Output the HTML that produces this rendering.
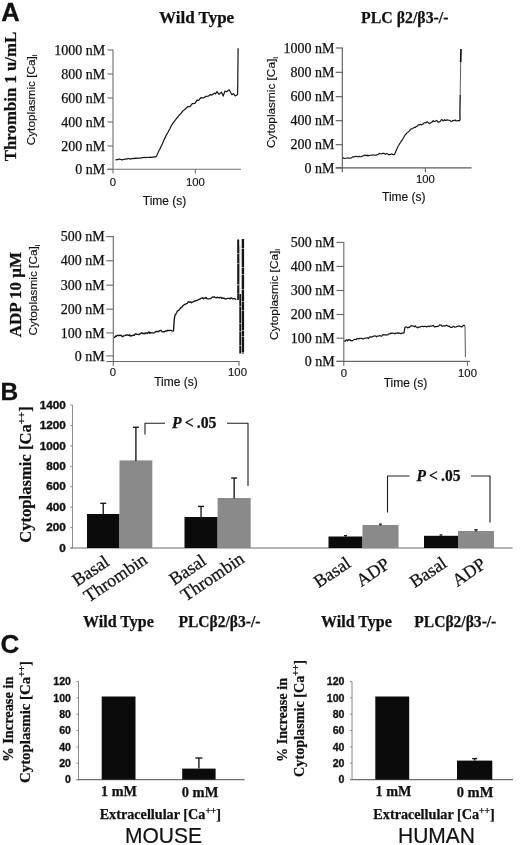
<!DOCTYPE html>
<html><head><meta charset="utf-8"><title>Figure</title>
<style>
html,body{margin:0;padding:0;background:#fff;}
body{width:520px;height:845px;overflow:hidden;font-family:"Liberation Sans",sans-serif;}
svg{display:block;will-change:transform;opacity:0.999}
text{fill:#111}
</style></head><body>
<svg width="520" height="845" viewBox="0 0 520 845">
<rect x="0" y="0" width="520" height="845" fill="#fff"/>
<text x="1.2" y="20.8" font-family="Liberation Sans, sans-serif" font-size="25.5" font-weight="bold" font-style="normal" text-anchor="start" stroke="#111" stroke-width="0.3" >A</text>
<text x="0.5" y="400" font-family="Liberation Sans, sans-serif" font-size="24.5" font-weight="bold" font-style="normal" text-anchor="start" stroke="#111" stroke-width="0.3" >B</text>
<text x="0.5" y="653.2" font-family="Liberation Sans, sans-serif" font-size="26" font-weight="bold" font-style="normal" text-anchor="start" stroke="#111" stroke-width="0.3" >C</text>
<text x="196.6" y="23" font-family="Liberation Serif, serif" font-size="17" font-weight="bold" font-style="normal" text-anchor="middle" stroke="#111" stroke-width="0.25" >Wild Type</text>
<text x="361" y="23" font-family="Liberation Serif, serif" font-size="17" font-weight="bold" font-style="normal" text-anchor="start" stroke="#111" stroke-width="0.25" textLength="87.5" lengthAdjust="spacingAndGlyphs">PLC β2/β3-/-</text>
<text x="16.2" y="96.5" font-family="Liberation Serif, serif" font-size="16.8" font-weight="bold" font-style="normal" text-anchor="middle" transform="rotate(-90 16.2 96.5)" stroke="#111" stroke-width="0.25" >Thrombin 1 u/mL</text>
<text x="21.2" y="294.6" font-family="Liberation Serif, serif" font-size="17" font-weight="bold" font-style="normal" text-anchor="middle" transform="rotate(-90 21.2 294.6)" stroke="#111" stroke-width="0.25" >ADP 10 μM</text>
<line x1="113" y1="49.5" x2="113" y2="169.3" stroke="#707070" stroke-width="1.1"/>
<line x1="107.5" y1="169.3" x2="241" y2="169.3" stroke="#707070" stroke-width="1.1"/>
<line x1="107.5" y1="50" x2="113" y2="50" stroke="#707070" stroke-width="1.1"/>
<text x="105.3" y="54.6" font-family="Liberation Serif, serif" font-size="14" font-weight="normal" font-style="normal" text-anchor="end" stroke="#111" stroke-width="0.25" >1000 nM</text>
<line x1="107.5" y1="74" x2="113" y2="74" stroke="#707070" stroke-width="1.1"/>
<text x="105.3" y="78.6" font-family="Liberation Serif, serif" font-size="14" font-weight="normal" font-style="normal" text-anchor="end" stroke="#111" stroke-width="0.25" >800 nM</text>
<line x1="107.5" y1="98" x2="113" y2="98" stroke="#707070" stroke-width="1.1"/>
<text x="105.3" y="102.6" font-family="Liberation Serif, serif" font-size="14" font-weight="normal" font-style="normal" text-anchor="end" stroke="#111" stroke-width="0.25" >600 nM</text>
<line x1="107.5" y1="122" x2="113" y2="122" stroke="#707070" stroke-width="1.1"/>
<text x="105.3" y="126.6" font-family="Liberation Serif, serif" font-size="14" font-weight="normal" font-style="normal" text-anchor="end" stroke="#111" stroke-width="0.25" >400 nM</text>
<line x1="107.5" y1="146" x2="113" y2="146" stroke="#707070" stroke-width="1.1"/>
<text x="105.3" y="150.6" font-family="Liberation Serif, serif" font-size="14" font-weight="normal" font-style="normal" text-anchor="end" stroke="#111" stroke-width="0.25" >200 nM</text>
<line x1="107.5" y1="169.3" x2="113" y2="169.3" stroke="#707070" stroke-width="1.1"/>
<text x="105.3" y="173.9" font-family="Liberation Serif, serif" font-size="14" font-weight="normal" font-style="normal" text-anchor="end" stroke="#111" stroke-width="0.25" >0 nM</text>
<line x1="113" y1="169.3" x2="113" y2="173.60000000000002" stroke="#707070" stroke-width="1.1"/>
<line x1="195.4" y1="169.3" x2="195.4" y2="173.60000000000002" stroke="#707070" stroke-width="1.1"/>
<text x="34.8" y="99.9" font-family="Liberation Sans, sans-serif" font-size="11.8" font-weight="normal" font-style="normal" text-anchor="middle" transform="rotate(-90 34.8 99.9)" stroke="#111" stroke-width="0.15" >Cytoplasmic [Ca]<tspan font-size="7.5" dy="2.5">i</tspan></text>
<text x="113" y="185.8" font-family="Liberation Sans, sans-serif" font-size="11.3" font-weight="normal" font-style="normal" text-anchor="middle" stroke="#111" stroke-width="0.15" >0</text>
<text x="195.4" y="185.8" font-family="Liberation Sans, sans-serif" font-size="11.3" font-weight="normal" font-style="normal" text-anchor="middle" stroke="#111" stroke-width="0.15" >100</text>
<text x="164.6" y="205.4" font-family="Liberation Sans, sans-serif" font-size="12" font-weight="normal" font-style="normal" text-anchor="middle" stroke="#111" stroke-width="0.15" >Time (s)</text>
<path d="M115.4,159.9 L116.2,159.8 L117.0,159.5 L117.8,159.6 L118.6,159.2 L119.5,159.1 L120.3,159.5 L121.1,159.4 L121.9,159.9 L122.7,159.6 L123.5,159.5 L124.3,159.2 L125.1,159.1 L125.9,159.2 L126.8,158.8 L127.6,158.9 L128.4,158.5 L129.2,158.5 L130.0,159.1 L130.8,158.9 L131.6,158.6 L132.5,158.5 L133.3,158.6 L134.1,158.2 L134.9,158.3 L135.8,158.1 L136.6,158.4 L137.4,158.0 L138.2,158.2 L139.0,158.0 L139.9,158.2 L140.7,158.0 L141.5,157.8 L142.3,157.7 L143.2,157.7 L144.0,157.5 L144.8,157.4 L145.6,157.6 L146.4,157.5 L147.3,157.4 L148.1,157.5 L148.9,157.4 L149.7,157.3 L150.5,157.2 L151.4,157.3 L152.2,157.4 L153.0,157.1 L153.8,156.7 L154.7,156.8 L155.5,156.8 L156.3,156.6 L157.2,154.8 L158.1,152.5 L159.0,150.6 L159.8,149.2 L160.7,147.2 L161.6,145.4 L162.5,143.4 L163.4,141.4 L164.4,139.0 L165.3,137.4 L166.2,135.3 L167.1,133.6 L168.0,132.2 L168.9,130.5 L169.8,129.1 L170.7,127.1 L171.6,125.3 L172.5,123.7 L173.4,122.6 L174.3,121.3 L175.2,120.2 L176.1,119.0 L177.0,117.9 L177.9,117.0 L178.8,115.7 L179.6,114.7 L180.5,114.0 L181.4,112.8 L182.3,111.6 L183.2,110.5 L184.1,110.0 L185.0,109.4 L185.0,109.2 L187.7,106.7 L190.0,106.7 L192.3,103.7 L194.9,103.3 L197.0,100.2 L198.7,100.4 L200.9,97.7 L203.5,98.0 L205.6,96.4 L208.2,96.2 L210.3,94.6 L211.8,95.1 L214.5,93.2 L215.5,93.9 L216.9,91.6 L219.1,94.4 L221.4,92.1 L223.2,96.1 L224.9,91.1 L226.6,91.8 L229.1,89.8 L231.9,94.7 L233.4,93.6 L235.2,95.9 L237.6,94.5 L237.8,80.0 L238.1,48.3" fill="none" stroke="#151515" stroke-width="1.2" stroke-linejoin="round" />
<line x1="342.3" y1="47.5" x2="342.3" y2="167.9" stroke="#5a5a5a" stroke-width="1.1"/>
<line x1="335.7" y1="167.9" x2="471.5" y2="167.9" stroke="#5a5a5a" stroke-width="1.1"/>
<line x1="335.7" y1="48" x2="342.3" y2="48" stroke="#5a5a5a" stroke-width="1.1"/>
<text x="334.5" y="52.6" font-family="Liberation Serif, serif" font-size="14" font-weight="normal" font-style="normal" text-anchor="end" stroke="#111" stroke-width="0.25" >1000 nM</text>
<line x1="335.7" y1="72.3" x2="342.3" y2="72.3" stroke="#5a5a5a" stroke-width="1.1"/>
<text x="334.5" y="76.89999999999999" font-family="Liberation Serif, serif" font-size="14" font-weight="normal" font-style="normal" text-anchor="end" stroke="#111" stroke-width="0.25" >800 nM</text>
<line x1="335.7" y1="96.7" x2="342.3" y2="96.7" stroke="#5a5a5a" stroke-width="1.1"/>
<text x="334.5" y="101.3" font-family="Liberation Serif, serif" font-size="14" font-weight="normal" font-style="normal" text-anchor="end" stroke="#111" stroke-width="0.25" >600 nM</text>
<line x1="335.7" y1="120.7" x2="342.3" y2="120.7" stroke="#5a5a5a" stroke-width="1.1"/>
<text x="334.5" y="125.3" font-family="Liberation Serif, serif" font-size="14" font-weight="normal" font-style="normal" text-anchor="end" stroke="#111" stroke-width="0.25" >400 nM</text>
<line x1="335.7" y1="144.7" x2="342.3" y2="144.7" stroke="#5a5a5a" stroke-width="1.1"/>
<text x="334.5" y="149.29999999999998" font-family="Liberation Serif, serif" font-size="14" font-weight="normal" font-style="normal" text-anchor="end" stroke="#111" stroke-width="0.25" >200 nM</text>
<line x1="335.7" y1="167.9" x2="342.3" y2="167.9" stroke="#5a5a5a" stroke-width="1.1"/>
<text x="334.5" y="172.5" font-family="Liberation Serif, serif" font-size="14" font-weight="normal" font-style="normal" text-anchor="end" stroke="#111" stroke-width="0.25" >0 nM</text>
<line x1="342.3" y1="167.9" x2="342.3" y2="172.20000000000002" stroke="#5a5a5a" stroke-width="1.1"/>
<line x1="425.4" y1="167.9" x2="425.4" y2="172.20000000000002" stroke="#5a5a5a" stroke-width="1.1"/>
<text x="275.4" y="102.5" font-family="Liberation Sans, sans-serif" font-size="11.8" font-weight="normal" font-style="normal" text-anchor="middle" transform="rotate(-90 275.4 102.5)" stroke="#111" stroke-width="0.15" >Cytoplasmic [Ca]<tspan font-size="7.5" dy="2.5">i</tspan></text>
<text x="425.4" y="183.4" font-family="Liberation Sans, sans-serif" font-size="11.3" font-weight="normal" font-style="normal" text-anchor="middle" stroke="#111" stroke-width="0.15" >100</text>
<text x="403.8" y="200.7" font-family="Liberation Sans, sans-serif" font-size="12" font-weight="normal" font-style="normal" text-anchor="middle" stroke="#111" stroke-width="0.15" >Time (s)</text>
<path d="M342.5,158.5 L343.3,157.9 L344.2,158.2 L345.0,158.5 L345.8,158.3 L346.7,158.0 L347.5,157.9 L348.3,158.2 L349.2,158.0 L350.0,158.2 L350.8,158.1 L351.7,157.7 L352.5,156.9 L353.3,156.8 L354.2,157.0 L355.0,156.4 L355.8,156.5 L356.7,156.3 L357.5,156.8 L358.3,156.7 L359.2,156.3 L360.0,156.8 L360.8,156.7 L361.6,156.4 L362.4,156.2 L363.2,155.7 L364.0,155.6 L364.8,154.9 L365.6,155.4 L366.4,155.7 L367.2,155.0 L368.0,156.1 L368.8,155.3 L369.6,155.5 L370.4,155.2 L371.2,155.0 L372.0,155.2 L372.8,155.0 L373.6,154.9 L374.4,155.2 L375.2,155.3 L376.0,155.1 L376.8,154.9 L377.6,154.8 L378.4,154.3 L379.2,153.3 L380.0,153.7 L380.8,153.8 L381.6,153.9 L382.4,153.4 L383.2,153.4 L384.0,153.4 L384.8,153.7 L385.6,154.4 L386.4,153.6 L387.2,153.8 L388.0,154.2 L388.8,154.8 L389.6,154.6 L390.4,154.4 L391.2,153.9 L392.0,154.0 L392.8,154.5 L393.7,154.6 L394.5,154.4 L396.0,150.9 L397.0,148.7 L398.0,146.5 L398.8,145.3 L399.6,143.7 L400.5,142.6 L401.3,141.0 L402.2,140.0 L403.1,138.5 L404.1,136.7 L405.0,135.1 L405.9,134.3 L406.8,133.1 L407.7,132.4 L408.6,131.6 L409.5,130.9 L410.3,129.6 L411.1,129.1 L411.9,128.7 L412.7,128.7 L413.5,127.9 L414.3,127.4 L415.2,127.5 L416.0,126.8 L416.9,126.2 L417.7,125.7 L418.5,124.7 L419.3,124.9 L420.2,124.4 L421.0,124.5 L421.8,125.0 L422.6,124.0 L423.4,123.9 L424.3,122.7 L425.1,122.7 L425.9,123.0 L426.7,121.9 L427.5,121.9 L428.3,122.8 L429.2,123.6 L430.0,123.4 L430.8,122.8 L431.6,122.5 L432.4,121.8 L433.2,120.6 L434.0,121.5 L434.9,121.4 L435.7,121.2 L436.5,120.4 L437.3,120.9 L438.1,122.2 L438.9,121.9 L439.7,121.9 L440.5,121.1 L441.3,119.7 L442.1,119.6 L443.0,120.9 L443.8,120.5 L444.6,119.7 L445.4,120.5 L446.2,120.4 L447.0,119.7 L447.8,120.3 L448.7,120.2 L449.5,120.3 L450.3,120.7 L451.2,121.5 L452.0,121.3 L452.8,120.4 L453.7,120.7 L454.5,120.2 L455.3,120.0 L456.2,121.0 L457.0,120.8 L458.0,120.5 L459.0,120.6 L460.0,120.6" fill="none" stroke="#151515" stroke-width="1.15" stroke-linejoin="round" />
<path d="M460.0,120.6 L459.9,112.0 L460.2,95.0" fill="none" stroke="#151515" stroke-width="1.3" stroke-linejoin="round" />
<path d="M460.2,95.0 L460.7,61.0" fill="none" stroke="#333" stroke-width="0.8" stroke-linejoin="round" />
<path d="M460.7,62.0 L461.0,49.0" fill="none" stroke="#151515" stroke-width="1.7" stroke-linejoin="round" />
<line x1="113.3" y1="236.1" x2="113.3" y2="361.5" stroke="#686868" stroke-width="1.1"/>
<line x1="106.3" y1="361.5" x2="239.5" y2="361.5" stroke="#686868" stroke-width="1.1"/>
<line x1="106.3" y1="236.6" x2="113.3" y2="236.6" stroke="#686868" stroke-width="1.1"/>
<text x="104.7" y="241.2" font-family="Liberation Serif, serif" font-size="14" font-weight="normal" font-style="normal" text-anchor="end" stroke="#111" stroke-width="0.25" >500 nM</text>
<line x1="106.3" y1="260.8" x2="113.3" y2="260.8" stroke="#686868" stroke-width="1.1"/>
<text x="104.7" y="265.40000000000003" font-family="Liberation Serif, serif" font-size="14" font-weight="normal" font-style="normal" text-anchor="end" stroke="#111" stroke-width="0.25" >400 nM</text>
<line x1="106.3" y1="285.2" x2="113.3" y2="285.2" stroke="#686868" stroke-width="1.1"/>
<text x="104.7" y="289.8" font-family="Liberation Serif, serif" font-size="14" font-weight="normal" font-style="normal" text-anchor="end" stroke="#111" stroke-width="0.25" >300 nM</text>
<line x1="106.3" y1="309.2" x2="113.3" y2="309.2" stroke="#686868" stroke-width="1.1"/>
<text x="104.7" y="313.8" font-family="Liberation Serif, serif" font-size="14" font-weight="normal" font-style="normal" text-anchor="end" stroke="#111" stroke-width="0.25" >200 nM</text>
<line x1="106.3" y1="332.9" x2="113.3" y2="332.9" stroke="#686868" stroke-width="1.1"/>
<text x="104.7" y="337.5" font-family="Liberation Serif, serif" font-size="14" font-weight="normal" font-style="normal" text-anchor="end" stroke="#111" stroke-width="0.25" >100 nM</text>
<line x1="106.3" y1="355.9" x2="113.3" y2="355.9" stroke="#686868" stroke-width="1.1"/>
<text x="104.7" y="360.5" font-family="Liberation Serif, serif" font-size="14" font-weight="normal" font-style="normal" text-anchor="end" stroke="#111" stroke-width="0.25" >0 nM</text>
<line x1="113.3" y1="361.5" x2="113.3" y2="365.8" stroke="#686868" stroke-width="1.1"/>
<line x1="239" y1="361.5" x2="239" y2="365.8" stroke="#686868" stroke-width="1.1"/>
<text x="37.2" y="290" font-family="Liberation Sans, sans-serif" font-size="11.8" font-weight="normal" font-style="normal" text-anchor="middle" transform="rotate(-90 37.2 290)" stroke="#111" stroke-width="0.15" >Cytoplasmic [Ca]<tspan font-size="7.5" dy="2.5">i</tspan></text>
<text x="113" y="376.2" font-family="Liberation Sans, sans-serif" font-size="11.3" font-weight="normal" font-style="normal" text-anchor="middle" stroke="#111" stroke-width="0.15" >0</text>
<text x="237.5" y="376.2" font-family="Liberation Sans, sans-serif" font-size="11.3" font-weight="normal" font-style="normal" text-anchor="middle" stroke="#111" stroke-width="0.15" >100</text>
<text x="176" y="386" font-family="Liberation Sans, sans-serif" font-size="12" font-weight="normal" font-style="normal" text-anchor="middle" stroke="#111" stroke-width="0.15" >Time (s)</text>
<path d="M114.0,337.5 L114.8,337.3 L115.6,336.0 L116.4,336.3 L117.2,335.3 L118.1,335.2 L118.9,335.7 L119.7,335.2 L120.5,335.3 L121.3,335.5 L122.1,336.5 L122.9,336.6 L123.8,335.8 L124.6,335.6 L125.4,335.3 L126.2,334.9 L127.0,335.0 L127.8,335.0 L128.6,335.4 L129.4,334.7 L130.2,336.1 L131.1,335.6 L131.9,335.8 L132.7,335.4 L133.5,335.2 L134.3,335.3 L135.1,333.9 L135.9,334.0 L136.8,334.3 L137.6,334.4 L138.4,334.5 L139.2,334.5 L140.0,333.8 L140.8,333.4 L141.6,332.7 L142.5,333.5 L143.3,333.7 L144.1,333.1 L144.9,333.9 L145.7,333.0 L146.5,332.9 L147.4,333.5 L148.2,332.5 L149.0,331.9 L149.8,333.4 L150.6,332.5 L151.4,332.9 L152.3,332.9 L153.1,332.8 L153.9,332.8 L154.7,332.6 L155.5,331.7 L156.3,331.4 L157.2,331.7 L158.0,331.4 L158.8,331.7 L159.6,330.7 L160.4,330.4 L161.2,330.6 L162.1,331.7 L162.9,331.9 L163.7,331.7 L164.5,331.7 L165.3,331.0 L166.1,331.0 L167.0,331.0 L167.8,330.1 L168.6,330.5 L169.4,330.7 L170.2,330.4 L171.0,330.4 L171.9,330.8 L172.7,331.1 L173.5,330.9 L174.3,319.1 L175.0,315.0 L175.8,314.2 L176.7,312.5 L177.5,310.8 L178.5,310.6 L179.4,309.5 L180.4,308.3 L181.3,307.2 L182.2,306.8 L183.1,305.5 L184.0,304.9 L184.8,304.3 L185.6,304.1 L186.4,303.6 L187.2,303.4 L188.0,302.1 L188.9,301.7 L189.7,302.3 L190.6,301.9 L191.5,302.8 L192.3,302.1 L193.2,301.9 L194.1,301.2 L194.9,301.0 L195.8,300.8 L196.7,300.5 L197.5,300.2 L198.4,299.7 L199.2,299.3 L200.1,298.9 L200.9,298.4 L201.8,298.2 L202.6,297.8 L203.5,298.9 L204.3,298.1 L205.1,298.1 L206.0,297.4 L206.8,298.5 L207.6,298.8 L208.4,298.8 L209.3,298.8 L210.1,298.7 L210.9,298.3 L211.7,297.7 L212.6,297.0 L213.4,297.1 L214.2,296.8 L215.0,297.4 L215.9,297.7 L216.7,297.7 L217.6,297.2 L218.4,297.7 L219.3,297.9 L220.1,297.4 L221.0,297.3 L221.8,298.4 L222.7,297.9 L223.5,298.4 L224.3,298.1 L225.2,299.1 L226.0,298.8 L226.8,298.6 L227.7,298.4 L228.5,298.4 L229.4,298.4 L230.2,298.8 L231.0,297.8 L231.9,298.2 L232.7,298.9 L233.6,298.6 L234.5,298.5 L235.4,299.0 L236.3,299.6" fill="none" stroke="#151515" stroke-width="1.35" stroke-linejoin="round" />
<path d="M238.2,239.6 L238.2,300.0" fill="none" stroke="#151515" stroke-width="2.0" stroke-linejoin="round" stroke-dasharray="14 0.5 9 0.5 21 0.6 8 0.4"/>
<path d="M240.2,294.0 L240.2,353.6" fill="none" stroke="#151515" stroke-width="1.8" stroke-linejoin="round" stroke-dasharray="12 0.5 17 0.6 7 0.5 14 0.4"/>
<path d="M239.2,300.0 L239.6,262.0 L239.9,246.0" fill="none" stroke="#777" stroke-width="0.5" stroke-linejoin="round" />
<path d="M242.9,239.0 L242.9,353.6" fill="none" stroke="#151515" stroke-width="2.4" stroke-linejoin="round" stroke-dasharray="9 0.5 19 0.6 6 0.5 15 0.5 11 0.4"/>
<line x1="343.8" y1="241.9" x2="343.8" y2="361.4" stroke="#686868" stroke-width="1.1"/>
<line x1="336.40000000000003" y1="361.4" x2="470" y2="361.4" stroke="#686868" stroke-width="1.1"/>
<line x1="336.40000000000003" y1="242.4" x2="343.8" y2="242.4" stroke="#686868" stroke-width="1.1"/>
<text x="334.7" y="247.0" font-family="Liberation Serif, serif" font-size="14" font-weight="normal" font-style="normal" text-anchor="end" stroke="#111" stroke-width="0.25" >500 nM</text>
<line x1="336.40000000000003" y1="266.4" x2="343.8" y2="266.4" stroke="#686868" stroke-width="1.1"/>
<text x="334.7" y="271.0" font-family="Liberation Serif, serif" font-size="14" font-weight="normal" font-style="normal" text-anchor="end" stroke="#111" stroke-width="0.25" >400 nM</text>
<line x1="336.40000000000003" y1="290.5" x2="343.8" y2="290.5" stroke="#686868" stroke-width="1.1"/>
<text x="334.7" y="295.1" font-family="Liberation Serif, serif" font-size="14" font-weight="normal" font-style="normal" text-anchor="end" stroke="#111" stroke-width="0.25" >300 nM</text>
<line x1="336.40000000000003" y1="314.5" x2="343.8" y2="314.5" stroke="#686868" stroke-width="1.1"/>
<text x="334.7" y="319.1" font-family="Liberation Serif, serif" font-size="14" font-weight="normal" font-style="normal" text-anchor="end" stroke="#111" stroke-width="0.25" >200 nM</text>
<line x1="336.40000000000003" y1="338.2" x2="343.8" y2="338.2" stroke="#686868" stroke-width="1.1"/>
<text x="334.7" y="342.8" font-family="Liberation Serif, serif" font-size="14" font-weight="normal" font-style="normal" text-anchor="end" stroke="#111" stroke-width="0.25" >100 nM</text>
<line x1="336.40000000000003" y1="361.4" x2="343.8" y2="361.4" stroke="#686868" stroke-width="1.1"/>
<text x="334.7" y="366.0" font-family="Liberation Serif, serif" font-size="14" font-weight="normal" font-style="normal" text-anchor="end" stroke="#111" stroke-width="0.25" >0 nM</text>
<line x1="343.8" y1="361.4" x2="343.8" y2="365.7" stroke="#686868" stroke-width="1.1"/>
<line x1="467.5" y1="361.4" x2="467.5" y2="365.7" stroke="#686868" stroke-width="1.1"/>
<text x="277.5" y="294.5" font-family="Liberation Sans, sans-serif" font-size="11.8" font-weight="normal" font-style="normal" text-anchor="middle" transform="rotate(-90 277.5 294.5)" stroke="#111" stroke-width="0.15" >Cytoplasmic [Ca]<tspan font-size="7.5" dy="2.5">i</tspan></text>
<text x="343.8" y="376.7" font-family="Liberation Sans, sans-serif" font-size="11.3" font-weight="normal" font-style="normal" text-anchor="middle" stroke="#111" stroke-width="0.15" >0</text>
<text x="467.5" y="376.7" font-family="Liberation Sans, sans-serif" font-size="11.3" font-weight="normal" font-style="normal" text-anchor="middle" stroke="#111" stroke-width="0.15" >100</text>
<text x="405.4" y="386.5" font-family="Liberation Sans, sans-serif" font-size="12" font-weight="normal" font-style="normal" text-anchor="middle" stroke="#111" stroke-width="0.15" >Time (s)</text>
<path d="M344.3,340.7 L345.1,341.4 L345.9,340.0 L346.7,339.9 L347.5,340.8 L348.3,339.7 L349.1,340.1 L349.9,339.6 L350.7,340.6 L351.5,340.6 L352.3,340.8 L353.1,340.3 L353.9,339.7 L354.7,339.4 L355.5,339.5 L356.3,339.4 L357.1,338.5 L358.0,338.6 L358.8,338.8 L359.6,338.4 L360.4,338.5 L361.2,338.3 L362.0,338.4 L362.8,339.0 L363.6,338.8 L364.4,338.3 L365.2,338.3 L366.0,338.0 L366.8,337.9 L367.6,337.9 L368.4,338.6 L369.2,337.2 L370.0,337.1 L370.8,336.7 L371.6,337.1 L372.4,336.7 L373.2,336.6 L374.0,336.0 L374.9,335.9 L375.7,336.1 L376.5,336.8 L377.3,336.0 L378.1,336.2 L378.9,336.0 L379.7,335.5 L380.5,336.0 L381.3,336.1 L382.1,335.8 L383.0,334.7 L383.8,334.9 L384.6,334.9 L385.4,334.8 L386.2,335.2 L387.0,334.8 L387.8,334.7 L388.6,334.1 L389.4,333.8 L390.2,333.8 L391.0,332.8 L391.9,333.4 L392.7,333.2 L393.5,333.2 L394.3,333.6 L395.1,333.7 L395.9,333.0 L396.7,333.2 L397.5,332.8 L398.3,333.5 L399.1,333.1 L400.0,333.2 L400.8,333.9 L401.6,333.5 L402.4,332.8 L403.2,333.1 L404.0,332.9 L405.0,327.0 L406.0,326.9 L407.0,327.3 L407.8,327.9 L408.6,327.3 L409.5,327.3 L410.3,326.1 L411.1,325.8 L411.9,325.7 L412.8,326.0 L413.6,326.1 L414.4,326.7 L415.2,326.0 L416.0,326.9 L416.9,327.3 L417.7,327.8 L418.5,327.0 L419.3,327.2 L420.1,327.1 L421.0,326.4 L421.8,326.5 L422.6,326.2 L423.4,326.7 L424.2,326.3 L425.1,326.4 L425.9,326.5 L426.7,327.0 L427.5,326.6 L428.4,326.0 L429.2,326.6 L430.0,326.2 L430.8,326.2 L431.6,326.1 L432.4,325.7 L433.2,325.5 L434.0,326.4 L434.8,327.0 L435.6,326.5 L436.4,326.7 L437.2,326.2 L438.0,326.5 L438.8,326.0 L439.6,324.9 L440.4,325.1 L441.2,325.1 L442.0,326.2 L442.8,326.1 L443.6,325.8 L444.4,326.2 L445.2,325.9 L446.0,325.4 L446.8,325.3 L447.6,325.9 L448.4,326.3 L449.2,326.2 L450.0,326.9 L450.8,327.4 L451.7,327.3 L452.5,327.1 L453.3,326.2 L454.2,326.7 L455.0,327.3 L455.8,327.0 L456.7,326.5 L457.5,326.4 L458.3,326.2 L459.2,325.8 L460.0,326.4 L460.8,326.7 L461.7,326.9 L462.5,326.3 L463.3,325.3 L464.2,325.4 L465.0,326.0" fill="none" stroke="#151515" stroke-width="1.2" stroke-linejoin="round" />
<path d="M465.0,326.0 L465.4,357.0" fill="none" stroke="#444" stroke-width="0.9" stroke-linejoin="round" />
<line x1="72.5" y1="405" x2="72.5" y2="548" stroke="#8a8a8a" stroke-width="1"/>
<line x1="70.5" y1="548" x2="512.5" y2="548" stroke="#6e6e6e" stroke-width="1.1"/>
<line x1="70.3" y1="548.0" x2="72.5" y2="548.0" stroke="#8a8a8a" stroke-width="1"/>
<text x="0" y="0" font-family="Liberation Sans, sans-serif" font-size="10.2" font-weight="bold" font-style="normal" text-anchor="end" transform="translate(65.8 551.7) scale(1.15 1)" stroke="#111" stroke-width="0.35" >0</text>
<line x1="70.3" y1="527.5714285714286" x2="72.5" y2="527.5714285714286" stroke="#8a8a8a" stroke-width="1"/>
<text x="0" y="0" font-family="Liberation Sans, sans-serif" font-size="10.2" font-weight="bold" font-style="normal" text-anchor="end" transform="translate(65.8 531.2714285714286) scale(1.15 1)" stroke="#111" stroke-width="0.35" >200</text>
<line x1="70.3" y1="507.1428571428571" x2="72.5" y2="507.1428571428571" stroke="#8a8a8a" stroke-width="1"/>
<text x="0" y="0" font-family="Liberation Sans, sans-serif" font-size="10.2" font-weight="bold" font-style="normal" text-anchor="end" transform="translate(65.8 510.8428571428571) scale(1.15 1)" stroke="#111" stroke-width="0.35" >400</text>
<line x1="70.3" y1="486.7142857142857" x2="72.5" y2="486.7142857142857" stroke="#8a8a8a" stroke-width="1"/>
<text x="0" y="0" font-family="Liberation Sans, sans-serif" font-size="10.2" font-weight="bold" font-style="normal" text-anchor="end" transform="translate(65.8 490.4142857142857) scale(1.15 1)" stroke="#111" stroke-width="0.35" >600</text>
<line x1="70.3" y1="466.2857142857143" x2="72.5" y2="466.2857142857143" stroke="#8a8a8a" stroke-width="1"/>
<text x="0" y="0" font-family="Liberation Sans, sans-serif" font-size="10.2" font-weight="bold" font-style="normal" text-anchor="end" transform="translate(65.8 469.98571428571427) scale(1.15 1)" stroke="#111" stroke-width="0.35" >800</text>
<line x1="70.3" y1="445.85714285714283" x2="72.5" y2="445.85714285714283" stroke="#8a8a8a" stroke-width="1"/>
<text x="0" y="0" font-family="Liberation Sans, sans-serif" font-size="10.2" font-weight="bold" font-style="normal" text-anchor="end" transform="translate(65.8 449.5571428571428) scale(1.15 1)" stroke="#111" stroke-width="0.35" >1000</text>
<line x1="70.3" y1="425.42857142857144" x2="72.5" y2="425.42857142857144" stroke="#8a8a8a" stroke-width="1"/>
<text x="0" y="0" font-family="Liberation Sans, sans-serif" font-size="10.2" font-weight="bold" font-style="normal" text-anchor="end" transform="translate(65.8 429.12857142857143) scale(1.15 1)" stroke="#111" stroke-width="0.35" >1200</text>
<line x1="70.3" y1="405.0" x2="72.5" y2="405.0" stroke="#8a8a8a" stroke-width="1"/>
<text x="0" y="0" font-family="Liberation Sans, sans-serif" font-size="10.2" font-weight="bold" font-style="normal" text-anchor="end" transform="translate(65.8 408.7) scale(1.15 1)" stroke="#111" stroke-width="0.35" >1400</text>
<text x="31.4" y="474.5" font-family="Liberation Serif, serif" font-size="16.6" font-weight="bold" font-style="normal" text-anchor="middle" transform="rotate(-90 31.4 474.5)" stroke="#111" stroke-width="0.25" >Cytoplasmic [Ca<tspan font-size="11" dy="-6">++</tspan><tspan dy="6">]</tspan></text>
<rect x="87" y="514" width="32.5" height="34.0" fill="#0b0b0b"/>
<line x1="103.25" y1="514.5" x2="103.25" y2="503.3" stroke="#1c1c1c" stroke-width="1.4"/>
<line x1="100.25" y1="503.3" x2="106.25" y2="503.3" stroke="#1c1c1c" stroke-width="1.4"/>
<rect x="119.5" y="460.4" width="32.8" height="87.6" fill="#8a8a8a"/>
<line x1="135.9" y1="460.9" x2="135.9" y2="427.3" stroke="#1c1c1c" stroke-width="1.4"/>
<line x1="132.9" y1="427.3" x2="138.9" y2="427.3" stroke="#1c1c1c" stroke-width="1.4"/>
<rect x="184.5" y="517" width="33.1" height="31.0" fill="#0b0b0b"/>
<line x1="201.05" y1="517.5" x2="201.05" y2="506.4" stroke="#1c1c1c" stroke-width="1.4"/>
<line x1="198.05" y1="506.4" x2="204.05" y2="506.4" stroke="#1c1c1c" stroke-width="1.4"/>
<rect x="217.6" y="498" width="33.1" height="50.0" fill="#8a8a8a"/>
<line x1="234.14999999999998" y1="498.5" x2="234.14999999999998" y2="478" stroke="#1c1c1c" stroke-width="1.4"/>
<line x1="231.14999999999998" y1="478" x2="237.14999999999998" y2="478" stroke="#1c1c1c" stroke-width="1.4"/>
<rect x="328.5" y="536.5" width="34.0" height="11.5" fill="#0b0b0b"/>
<line x1="345.5" y1="537.0" x2="345.5" y2="535.6" stroke="#1c1c1c" stroke-width="1.2"/>
<line x1="344.0" y1="535.6" x2="347.0" y2="535.6" stroke="#1c1c1c" stroke-width="1.2"/>
<rect x="362.5" y="525" width="36.0" height="23.0" fill="#8a8a8a"/>
<line x1="380.5" y1="525.5" x2="380.5" y2="524.1" stroke="#1c1c1c" stroke-width="1.2"/>
<line x1="379.0" y1="524.1" x2="382.0" y2="524.1" stroke="#1c1c1c" stroke-width="1.2"/>
<rect x="424" y="535.8" width="34.0" height="12.2" fill="#0b0b0b"/>
<line x1="441.0" y1="536.3" x2="441.0" y2="534.9" stroke="#1c1c1c" stroke-width="1.2"/>
<line x1="439.5" y1="534.9" x2="442.5" y2="534.9" stroke="#1c1c1c" stroke-width="1.2"/>
<rect x="458" y="531" width="36.0" height="17.0" fill="#8a8a8a"/>
<line x1="476.0" y1="531.5" x2="476.0" y2="529.8" stroke="#1c1c1c" stroke-width="1.3"/>
<line x1="474.25" y1="529.8" x2="477.75" y2="529.8" stroke="#1c1c1c" stroke-width="1.3"/>
<path d="M145.0,434.6 L145.0,423.3 L165.0,423.3" fill="none" stroke="#1c1c1c" stroke-width="1.1" stroke-linejoin="round" />
<path d="M227.0,423.3 L248.0,423.3 L248.0,486.0" fill="none" stroke="#1c1c1c" stroke-width="1.1" stroke-linejoin="round" />
<text x="172" y="428" font-family="Liberation Serif, serif" font-size="16" font-weight="bold" font-style="normal" text-anchor="start" stroke="#111" stroke-width="0.25" textLength="44.5" lengthAdjust="spacingAndGlyphs"><tspan font-style="italic">P</tspan>&#8201;&lt;&#8201;.05</text>
<path d="M387.5,512.5 L387.5,476.0 L409.5,476.0" fill="none" stroke="#1c1c1c" stroke-width="1.1" stroke-linejoin="round" />
<path d="M471.0,476.0 L490.0,476.0 L490.0,522.5" fill="none" stroke="#1c1c1c" stroke-width="1.1" stroke-linejoin="round" />
<text x="416.5" y="480.5" font-family="Liberation Serif, serif" font-size="16" font-weight="bold" font-style="normal" text-anchor="start" stroke="#111" stroke-width="0.25" textLength="44.0" lengthAdjust="spacingAndGlyphs"><tspan font-style="italic">P</tspan>&#8201;&lt;&#8201;.05</text>
<text x="110.5" y="564.5" font-family="Liberation Serif, serif" font-size="18" font-weight="normal" font-style="normal" text-anchor="end" transform="rotate(-34 110.5 564.5)" stroke="#111" stroke-width="0.25" >Basal</text>
<text x="148.5" y="562.5" font-family="Liberation Serif, serif" font-size="18" font-weight="normal" font-style="normal" text-anchor="end" transform="rotate(-34 148.5 562.5)" stroke="#111" stroke-width="0.25" >Thrombin</text>
<text x="207.5" y="563.5" font-family="Liberation Serif, serif" font-size="18" font-weight="normal" font-style="normal" text-anchor="end" transform="rotate(-34 207.5 563.5)" stroke="#111" stroke-width="0.25" >Basal</text>
<text x="245.5" y="561.5" font-family="Liberation Serif, serif" font-size="18" font-weight="normal" font-style="normal" text-anchor="end" transform="rotate(-34 245.5 561.5)" stroke="#111" stroke-width="0.25" >Thrombin</text>
<text x="352" y="566" font-family="Liberation Serif, serif" font-size="18" font-weight="normal" font-style="normal" text-anchor="end" transform="rotate(-34 352 566)" stroke="#111" stroke-width="0.25" >Basal</text>
<text x="391" y="567" font-family="Liberation Serif, serif" font-size="18" font-weight="normal" font-style="normal" text-anchor="end" transform="rotate(-34 391 567)" stroke="#111" stroke-width="0.25" >ADP</text>
<text x="448" y="566" font-family="Liberation Serif, serif" font-size="18" font-weight="normal" font-style="normal" text-anchor="end" transform="rotate(-34 448 566)" stroke="#111" stroke-width="0.25" >Basal</text>
<text x="487" y="567" font-family="Liberation Serif, serif" font-size="18" font-weight="normal" font-style="normal" text-anchor="end" transform="rotate(-34 487 567)" stroke="#111" stroke-width="0.25" >ADP</text>
<text x="118.4" y="627" font-family="Liberation Serif, serif" font-size="16" font-weight="bold" font-style="normal" text-anchor="middle" stroke="#111" stroke-width="0.25" >Wild Type</text>
<text x="178.5" y="627" font-family="Liberation Serif, serif" font-size="16" font-weight="bold" font-style="normal" text-anchor="start" stroke="#111" stroke-width="0.25" textLength="82" lengthAdjust="spacingAndGlyphs">PLCβ2/β3-/-</text>
<text x="356.4" y="627" font-family="Liberation Serif, serif" font-size="16" font-weight="bold" font-style="normal" text-anchor="middle" stroke="#111" stroke-width="0.25" >Wild Type</text>
<text x="414.3" y="627" font-family="Liberation Serif, serif" font-size="16" font-weight="bold" font-style="normal" text-anchor="start" stroke="#111" stroke-width="0.25" textLength="82" lengthAdjust="spacingAndGlyphs">PLCβ2/β3-/-</text>
<line x1="78.5" y1="681.5" x2="78.5" y2="779.6" stroke="#8a8a8a" stroke-width="1"/>
<line x1="76.5" y1="779.6" x2="244.5" y2="779.6" stroke="#6e6e6e" stroke-width="1.1"/>
<line x1="76.5" y1="779.6" x2="78.5" y2="779.6" stroke="#8a8a8a" stroke-width="1"/>
<text x="71.0" y="783.4" font-family="Liberation Sans, sans-serif" font-size="10.6" font-weight="bold" font-style="normal" text-anchor="end" stroke="#111" stroke-width="0.3" >0</text>
<line x1="76.5" y1="763.25" x2="78.5" y2="763.25" stroke="#8a8a8a" stroke-width="1"/>
<text x="71.0" y="767.05" font-family="Liberation Sans, sans-serif" font-size="10.6" font-weight="bold" font-style="normal" text-anchor="end" stroke="#111" stroke-width="0.3" >20</text>
<line x1="76.5" y1="746.9" x2="78.5" y2="746.9" stroke="#8a8a8a" stroke-width="1"/>
<text x="71.0" y="750.6999999999999" font-family="Liberation Sans, sans-serif" font-size="10.6" font-weight="bold" font-style="normal" text-anchor="end" stroke="#111" stroke-width="0.3" >40</text>
<line x1="76.5" y1="730.55" x2="78.5" y2="730.55" stroke="#8a8a8a" stroke-width="1"/>
<text x="71.0" y="734.3499999999999" font-family="Liberation Sans, sans-serif" font-size="10.6" font-weight="bold" font-style="normal" text-anchor="end" stroke="#111" stroke-width="0.3" >60</text>
<line x1="76.5" y1="714.2" x2="78.5" y2="714.2" stroke="#8a8a8a" stroke-width="1"/>
<text x="71.0" y="718.0" font-family="Liberation Sans, sans-serif" font-size="10.6" font-weight="bold" font-style="normal" text-anchor="end" stroke="#111" stroke-width="0.3" >80</text>
<line x1="76.5" y1="697.85" x2="78.5" y2="697.85" stroke="#8a8a8a" stroke-width="1"/>
<text x="71.0" y="701.65" font-family="Liberation Sans, sans-serif" font-size="10.6" font-weight="bold" font-style="normal" text-anchor="end" stroke="#111" stroke-width="0.3" >100</text>
<line x1="76.5" y1="681.5" x2="78.5" y2="681.5" stroke="#8a8a8a" stroke-width="1"/>
<text x="71.0" y="685.3" font-family="Liberation Sans, sans-serif" font-size="10.6" font-weight="bold" font-style="normal" text-anchor="end" stroke="#111" stroke-width="0.3" >120</text>
<rect x="101.7" y="696.5" width="33.8" height="83.1" fill="#0b0b0b"/>
<rect x="182.2" y="768.6" width="33.4" height="11.0" fill="#0b0b0b"/>
<line x1="198.89999999999998" y1="768.6" x2="198.89999999999998" y2="758" stroke="#1c1c1c" stroke-width="1.4"/>
<line x1="195.39999999999998" y1="758" x2="202.39999999999998" y2="758" stroke="#1c1c1c" stroke-width="1.4"/>
<text x="119" y="796" font-family="Liberation Serif, serif" font-size="14.2" font-weight="bold" font-style="normal" text-anchor="middle" stroke="#111" stroke-width="0.25" >1 mM</text>
<text x="200" y="797.2" font-family="Liberation Serif, serif" font-size="14.5" font-weight="bold" font-style="normal" text-anchor="middle" stroke="#111" stroke-width="0.25" >0 mM</text>
<text x="160.3" y="818.5" font-family="Liberation Serif, serif" font-size="14.2" font-weight="bold" font-style="normal" text-anchor="middle" stroke="#111" stroke-width="0.25" >Extracellular [Ca<tspan font-size="9.5" dy="-5">++</tspan><tspan dy="5">]</tspan></text>
<text x="125" y="842.5" font-family="Liberation Sans, sans-serif" font-size="22.4" font-weight="normal" font-style="normal" text-anchor="start" stroke="#111" stroke-width="0.2" textLength="77" lengthAdjust="spacingAndGlyphs">MOUSE</text>
<text x="13.3" y="719.2" font-family="Liberation Serif, serif" font-size="14.4" font-weight="bold" font-style="normal" text-anchor="middle" transform="rotate(-90 13.3 719.2)" stroke="#111" stroke-width="0.25" >% Increase in</text>
<text x="30.3" y="722" font-family="Liberation Serif, serif" font-size="14.9" font-weight="bold" font-style="normal" text-anchor="middle" transform="rotate(-90 30.3 722)" stroke="#111" stroke-width="0.25" >Cytoplasmic [Ca<tspan font-size="9.5" dy="-5">++</tspan><tspan dy="5">]</tspan></text>
<line x1="352" y1="681.5" x2="352" y2="779.6" stroke="#8a8a8a" stroke-width="1"/>
<line x1="350" y1="779.6" x2="513" y2="779.6" stroke="#6e6e6e" stroke-width="1.1"/>
<line x1="350" y1="779.6" x2="352" y2="779.6" stroke="#8a8a8a" stroke-width="1"/>
<text x="344.5" y="783.4" font-family="Liberation Sans, sans-serif" font-size="10.6" font-weight="bold" font-style="normal" text-anchor="end" stroke="#111" stroke-width="0.3" >0</text>
<line x1="350" y1="763.25" x2="352" y2="763.25" stroke="#8a8a8a" stroke-width="1"/>
<text x="344.5" y="767.05" font-family="Liberation Sans, sans-serif" font-size="10.6" font-weight="bold" font-style="normal" text-anchor="end" stroke="#111" stroke-width="0.3" >20</text>
<line x1="350" y1="746.9" x2="352" y2="746.9" stroke="#8a8a8a" stroke-width="1"/>
<text x="344.5" y="750.6999999999999" font-family="Liberation Sans, sans-serif" font-size="10.6" font-weight="bold" font-style="normal" text-anchor="end" stroke="#111" stroke-width="0.3" >40</text>
<line x1="350" y1="730.55" x2="352" y2="730.55" stroke="#8a8a8a" stroke-width="1"/>
<text x="344.5" y="734.3499999999999" font-family="Liberation Sans, sans-serif" font-size="10.6" font-weight="bold" font-style="normal" text-anchor="end" stroke="#111" stroke-width="0.3" >60</text>
<line x1="350" y1="714.2" x2="352" y2="714.2" stroke="#8a8a8a" stroke-width="1"/>
<text x="344.5" y="718.0" font-family="Liberation Sans, sans-serif" font-size="10.6" font-weight="bold" font-style="normal" text-anchor="end" stroke="#111" stroke-width="0.3" >80</text>
<line x1="350" y1="697.85" x2="352" y2="697.85" stroke="#8a8a8a" stroke-width="1"/>
<text x="344.5" y="701.65" font-family="Liberation Sans, sans-serif" font-size="10.6" font-weight="bold" font-style="normal" text-anchor="end" stroke="#111" stroke-width="0.3" >100</text>
<line x1="350" y1="681.5" x2="352" y2="681.5" stroke="#8a8a8a" stroke-width="1"/>
<text x="344.5" y="685.3" font-family="Liberation Sans, sans-serif" font-size="10.6" font-weight="bold" font-style="normal" text-anchor="end" stroke="#111" stroke-width="0.3" >120</text>
<rect x="375.3" y="696.5" width="33.9" height="83.1" fill="#0b0b0b"/>
<rect x="457" y="760.6" width="35.3" height="19.0" fill="#0b0b0b"/>
<line x1="474.65" y1="760.6" x2="474.65" y2="758.6" stroke="#1c1c1c" stroke-width="1.4"/>
<line x1="472.15" y1="758.6" x2="477.15" y2="758.6" stroke="#1c1c1c" stroke-width="1.4"/>
<text x="393.5" y="796" font-family="Liberation Serif, serif" font-size="14.2" font-weight="bold" font-style="normal" text-anchor="middle" stroke="#111" stroke-width="0.25" >1 mM</text>
<text x="475" y="797.2" font-family="Liberation Serif, serif" font-size="14.5" font-weight="bold" font-style="normal" text-anchor="middle" stroke="#111" stroke-width="0.25" >0 mM</text>
<text x="434" y="818.5" font-family="Liberation Serif, serif" font-size="14.2" font-weight="bold" font-style="normal" text-anchor="middle" stroke="#111" stroke-width="0.25" >Extracellular [Ca<tspan font-size="9.5" dy="-5">++</tspan><tspan dy="5">]</tspan></text>
<text x="398" y="842.5" font-family="Liberation Sans, sans-serif" font-size="22.4" font-weight="normal" font-style="normal" text-anchor="start" stroke="#111" stroke-width="0.2" textLength="77" lengthAdjust="spacingAndGlyphs">HUMAN</text>
<text x="286.5" y="720" font-family="Liberation Serif, serif" font-size="14.2" font-weight="bold" font-style="normal" text-anchor="middle" transform="rotate(-90 286.5 720)" stroke="#111" stroke-width="0.25" >% Increase in</text>
<text x="303.5" y="718.5" font-family="Liberation Serif, serif" font-size="14.2" font-weight="bold" font-style="normal" text-anchor="middle" transform="rotate(-90 303.5 718.5)" stroke="#111" stroke-width="0.25" >Cytoplasmic [Ca<tspan font-size="9.5" dy="-5">++</tspan><tspan dy="5">]</tspan></text>
</svg>
</body></html>
